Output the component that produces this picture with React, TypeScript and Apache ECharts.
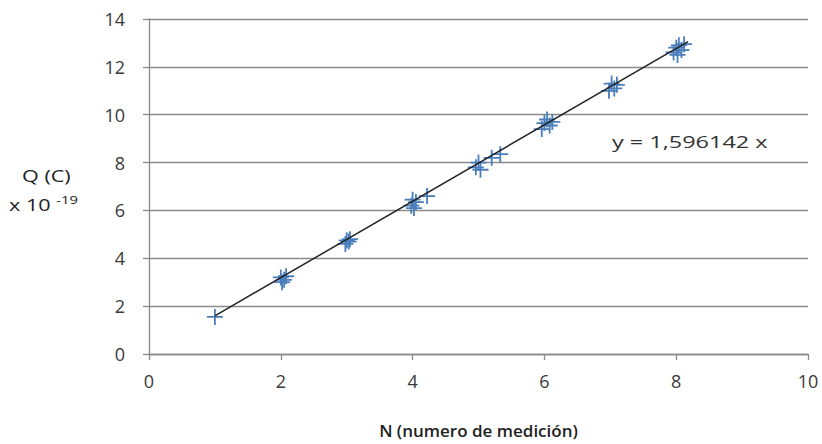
import React, { useEffect, useRef } from "react";
import * as echarts from "echarts";

// Measured N values (x) and charge Q (y, x10^-19 C)
const measN: number[] = [
  1.0,
  2.0, 2.02, 2.05, 2.08,
  3.0, 2.98, 3.03, 3.05,
  3.98, 4.0, 4.02, 4.05, 4.22,
  4.96, 5.0, 5.03, 5.2, 5.33,
  5.96, 6.0, 6.04, 6.08, 6.12,
  6.98, 7.02, 7.06, 7.1,
  7.96, 8.0, 8.04, 8.08, 8.12, 8.02,
];
const measQ: number[] = [
  1.55,
  3.2, 3.0, 3.1, 3.25,
  4.75, 4.6, 4.7, 4.8,
  6.2, 6.45, 6.1, 6.35, 6.6,
  7.8, 8.0, 7.7, 8.2, 8.35,
  9.4, 9.65, 9.8, 9.55, 9.7,
  11.0, 11.3, 11.1, 11.25,
  12.6, 12.8, 12.9, 12.7, 12.95, 12.5,
];
const slope = 1.596142;
const trendN: number[] = [1.0, 8.18];
const xTicks: number[] = [0, 2, 4, 6, 8, 10];
const yTicks: number[] = [0, 2, 4, 6, 8, 10, 12, 14];

const PLUS =
  "path://M7.1,0h1.8v7.1h7.1v1.8h-7.1v7.1h-1.8v-7.1h-7.1v-1.8h7.1z";

export default function App() {
  const ref = useRef<HTMLDivElement>(null);
  useEffect(() => {
    if (!ref.current) return;
    const chart = echarts.init(ref.current, null, { renderer: "svg" });
    const font = "'Open Sans', sans-serif";
    chart.setOption({
      animation: false,
      backgroundColor: "#ffffff",
      grid: { left: 149, right: 14, top: 19, bottom: 89, containLabel: false },
      xAxis: {
        type: "value",
        min: xTicks[0],
        max: xTicks[xTicks.length - 1],
        interval: 2,
        name: "N (numero de medición)",
        nameLocation: "middle",
        nameGap: 68,
        nameTextStyle: { fontFamily: font, fontSize: 17, color: "#222", fontWeight: 600 },
        axisLine: { show: true, lineStyle: { color: "#8a8a8a", width: 1.3 } },
        axisTick: { show: true, length: 6, inside: false, lineStyle: { color: "#8a8a8a", width: 1.3 } },
        axisLabel: { fontFamily: font, fontSize: 18, color: "#3a3a3a", margin: 18 },
        splitLine: { show: false },
      },
      yAxis: {
        type: "value",
        min: yTicks[0],
        max: yTicks[yTicks.length - 1],
        interval: 2,
        axisLine: { show: true, lineStyle: { color: "#8a8a8a", width: 1.3 } },
        axisTick: { show: true, length: 6, inside: false, lineStyle: { color: "#8a8a8a", width: 1.3 } },
        axisLabel: { fontFamily: font, fontSize: 18, color: "#3a3a3a", margin: 24 },
        splitLine: { show: true, lineStyle: { color: "#8a8a8a", width: 1.3 } },
      },
      graphic: [
        {
          type: "text",
          x: 22,
          y: 176,
          scaleX: 1.35,
          style: {
            text: "Q (C)",
            fontFamily: font,
            fontSize: 16,
            fill: "#222",
            textAlign: "left",
            textVerticalAlign: "middle",
          },
        },
        {
          type: "text",
          x: 9,
          y: 205,
          scaleX: 1.35,
          style: {
            text: "{a|x 10 }{b|-19}",
            fontFamily: font,
            textAlign: "left",
            textVerticalAlign: "middle",
            rich: {
              a: { fontFamily: font, fontSize: 16, fill: "#222", height: 20, lineHeight: 20 },
              b: { fontFamily: font, fontSize: 11, fill: "#222", padding: [0, 0, 10, 0] },
            },
          },
        },
        {
          type: "text",
          x: 612,
          y: 141,
          scaleX: 1.38,
          style: {
            text: "y = 1,596142 x",
            fontFamily: font,
            fontSize: 17,
            fill: "#333",
            textAlign: "left",
            textVerticalAlign: "middle",
          },
        },
      ],
      series: [
        {
          type: "line",
          data: trendN.map((n) => [n, slope * n]),
          showSymbol: false,
          symbol: "none",
          lineStyle: { color: "#222", width: 1.5 },
          z: 3,
        },
        {
          type: "scatter",
          data: measN.map((n, i) => [n, measQ[i]]),
          symbol: PLUS,
          symbolSize: 16,
          itemStyle: { color: "#4a7ebb", opacity: 1 },
          z: 2,
        },
      ],
    });
    return () => chart.dispose();
  }, []);
  return (
    <div
      ref={ref}
      style={{ position: "absolute", left: 0, top: 0, width: 822, height: 444 }}
    />
  );
}
